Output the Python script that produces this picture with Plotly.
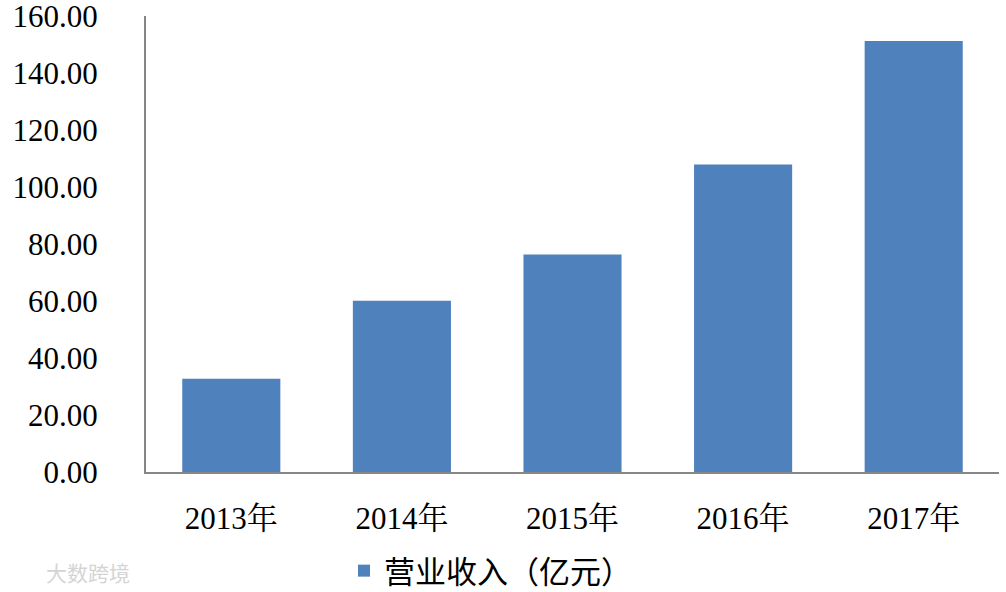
import plotly.graph_objects as go

categories = ["2013年", "2014年", "2015年", "2016年", "2017年"]
revenue = [32.7, 60.1, 76.3, 107.9, 151.2]
series_name = "营业收入（亿元）"
y_ticks = [0, 20, 40, 60, 80, 100, 120, 140, 160]

FONT = "Liberation Serif, Noto Serif CJK SC, Noto Sans CJK SC, serif"

fig = go.Figure()
fig.add_trace(go.Bar(
    x=categories, y=revenue, name=series_name,
    marker=dict(color="#4F81BD", line=dict(width=0)),
    showlegend=True,
))

fig.update_layout(
    width=1006, height=592,
    margin=dict(l=146, r=7, t=16, b=120, autoexpand=False),
    paper_bgcolor="white", plot_bgcolor="white",
    bargap=0.425,
    font=dict(family=FONT, size=31, color="#000000"),
    showlegend=True,
    legend=dict(orientation="h", x=(344 - 146) / 853, xanchor="left",
                y=(472 - 571) / 456, yanchor="middle",
                font=dict(family="Noto Sans CJK SC, sans-serif", size=31, color="#000000"),
                itemwidth=30, borderwidth=0, bgcolor="rgba(0,0,0,0)"),
    xaxis=dict(showline=True, linecolor="#868686", linewidth=2, ticks="",
               showgrid=False, zeroline=False, ticklabelstandoff=18),
    yaxis=dict(range=[0, 160], tickvals=y_ticks, tickformat=".2f",
               showline=True, linecolor="#868686", linewidth=2, ticks="",
               showgrid=False, zeroline=False, ticklabelstandoff=40,
               ticklabeloverflow="allow"),
    annotations=[dict(text="大数跨境", x=(88 - 146) / 853, y=(472 - 572) / 456,
                      xref="paper", yref="paper", xanchor="center", yanchor="middle",
                      showarrow=False,
                      font=dict(family="Noto Sans CJK SC", size=21, color="#d4d4d4"))],
)

fig.write_html("out.html", config={"displayModeBar": False},
               post_script="document.body.style.margin='0px';")
